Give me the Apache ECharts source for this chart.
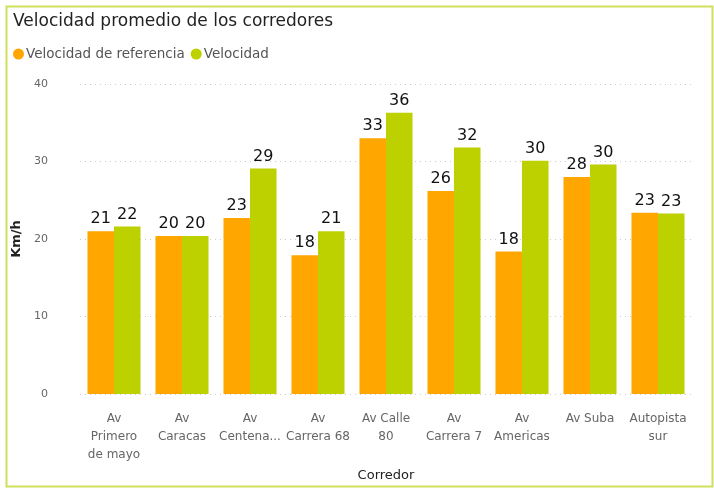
<!DOCTYPE html>
<html>
<head>
<meta charset="utf-8">
<script src="https://cdn.jsdelivr.net/npm/echarts@6/dist/echarts.min.js"></script>
<style>html,body{margin:0;padding:0;background:#fff;}#c{width:714px;height:493px;}</style>
</head>
<body>
<div id="c"></div>
<script>
const categories = ["Av\nPrimero\nde mayo", "Av\nCaracas", "Av\nCentena...", "Av\nCarrera 68", "Av Calle\n80", "Av\nCarrera 7", "Av\nAmericas", "Av Suba", "Autopista\nsur"];
const velocidadReferencia = [21.0, 20.4, 22.7, 17.9, 33.0, 26.2, 18.4, 28.0, 23.4];
const velocidad = [21.6, 20.4, 29.1, 21.0, 36.3, 31.8, 30.1, 29.6, 23.3];
const yTicks = [0, 10, 20, 30, 40];

const chart = echarts.init(document.getElementById('c'), null, {renderer: 'canvas'});
const fontFam = '"DejaVu Sans", "Noto Sans", sans-serif';
const labelCfg = {
  show: true, position: 'top', distance: 4, color: '#111',
  fontSize: 16, fontFamily: fontFam,
  formatter: p => Math.round(p.value)
};
chart.setOption({
  animation: false,
  graphic: [{
    type: 'rect', left: 4, top: 4, z: -1,
    shape: {width: 706, height: 480},
    style: {fill: 'none', stroke: '#cfe05a', lineWidth: 2}
  }],
  title: {
    text: 'Velocidad promedio de los corredores',
    left: 8, top: 8,
    textStyle: {fontSize: 17, fontWeight: 'normal', color: '#222', fontFamily: fontFam}
  },
  legend: {
    left: 8, top: 42, itemGap: 6, itemWidth: 11, itemHeight: 11, icon: 'circle',
    textStyle: {fontSize: 13.5, color: '#555', fontFamily: fontFam, padding: [0, 0, 0, -3]},
    data: ['Velocidad de referencia', 'Velocidad']
  },
  grid: {left: 80, right: 22, top: 84, bottom: 99, containLabel: false},
  xAxis: {
    type: 'category', data: categories,
    name: 'Corredor', nameLocation: 'middle', nameGap: 68,
    nameTextStyle: {fontSize: 13, color: '#222', fontFamily: fontFam},
    axisLine: {show: false}, axisTick: {show: false},
    axisLabel: {interval: 0, color: '#666', fontSize: 12, fontFamily: fontFam, lineHeight: 18, margin: 16}
  },
  yAxis: {
    type: 'value', min: yTicks[0], max: yTicks[yTicks.length - 1], interval: 10,
    name: 'Km/h', nameLocation: 'middle', nameGap: 48, nameRotate: 90,
    nameTextStyle: {fontSize: 13, color: '#222', fontFamily: fontFam, fontWeight: 'bold'},
    axisLabel: {color: '#666', fontSize: 11, fontFamily: fontFam, margin: 32},
    splitLine: {lineStyle: {type: [1, 4], color: '#ccc', width: 1}}
  },
  series: [
    {name: 'Velocidad de referencia', type: 'bar', data: velocidadReferencia,
     itemStyle: {color: '#FFA700'}, barGap: '0%', barCategoryGap: '22%', label: labelCfg},
    {name: 'Velocidad', type: 'bar', data: velocidad,
     itemStyle: {color: '#BDD000'}, label: labelCfg}
  ]
});
</script>
</body>
</html>
